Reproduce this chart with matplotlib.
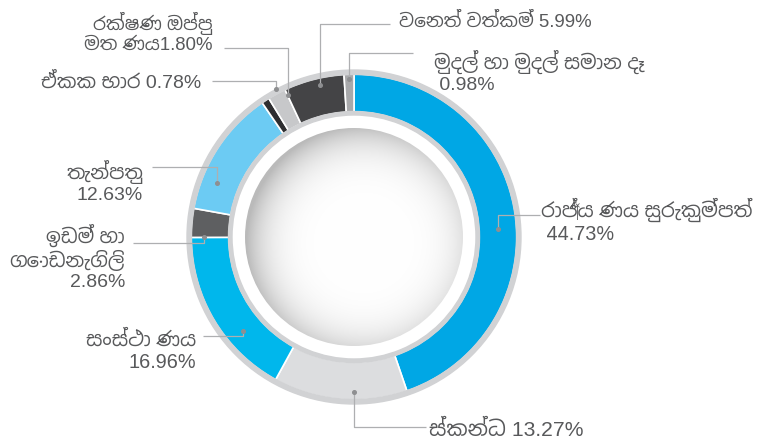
import numpy as np
import matplotlib
matplotlib.use("Agg")
import matplotlib.pyplot as plt
from matplotlib import font_manager
from matplotlib.patches import Circle, Wedge
from matplotlib.ft2font import FT2Font

# ---------------- data ----------------
labels = [
    "රාජ්‍ය ණය සුරැකුම්පත්\n 44.73%",
    "ස්කන්ධ 13.27%",
    "සංස්ථා ණය\n16.96%",
    "ඉඩම් හා\nගොඩනැගිලි\n2.86%",
    "තැන්පතු\n12.63%",
    "ඒකක භාර 0.78%",
    "රක්ෂණ ඔප්පු\nමත ණය1.80%",
    "වෙනත් වත්කම් 5.99%",
    "මුදල් හා මුදල් සමාන දෑ\n 0.98%",
]
values = [44.73, 13.27, 16.96, 2.86, 12.63, 0.78, 1.80, 5.99, 0.98]
colors = ["#00A7E5", "#DCDDDF", "#00B7EC", "#5E5F61", "#6CCBF3",
          "#2E2E30", "#C7C8CA", "#444446", "#A8A9AB"]

# ---------------- font selection ----------------
def find_sinhala_fonts():
    found = []
    for f in font_manager.fontManager.ttflist:
        try:
            cm = FT2Font(f.fname).get_charmap()
            if 0x0DBB in cm and 0x0DCF in cm:
                found.append(f.name)
        except Exception:
            pass
    found = sorted(set(found), key=lambda n: (("Mono" in n) or ("Code" in n),
                                               "Sans" not in n, n))
    return found

sfonts = find_sinhala_fonts()
families = ["Liberation Sans", "DejaVu Sans"] + sfonts[:1]
plt.rcParams["font.family"] = families

W, H = 761, 443
fig = plt.figure(figsize=(W / 100, H / 100), dpi=100)
ax = fig.add_axes([0, 0, 1, 1])

cx, cy = 354, H - 237
r_out, r_in = 163, 125

ax.pie(values, colors=colors, startangle=90, counterclock=False,
       radius=r_out, center=(cx, cy),
       wedgeprops=dict(width=r_out - r_in, edgecolor="white", linewidth=1.2))

# outer and inner gray rings
ax.add_patch(Wedge((cx, cy), r_out + 4, 0, 360, width=4.5, color="#D1D2D4", zorder=3))
ax.add_patch(Wedge((cx, cy), r_in + 0.5, 0, 360, width=3.5, color="#D1D2D4", zorder=3))

# inner shaded disc
r_disc = 109
n = 400
xs = np.linspace(cx - r_disc, cx + r_disc, n)
ys = np.linspace(cy - r_disc, cy + r_disc, n)
X, Y = np.meshgrid(xs, ys)
lx, ly = cx + 10, cy - 6
d = np.sqrt((X - lx) ** 2 + (Y - ly) ** 2) / (r_disc * 1.08)
shade = 1.0 - 0.27 * np.clip(d, 0, 1) ** 5.0
img = np.dstack([shade, shade, shade])
im = ax.imshow(img, extent=(cx - r_disc, cx + r_disc, cy - r_disc, cy + r_disc),
               origin="lower", zorder=4, interpolation="bilinear")
clip = Circle((cx, cy), r_disc, transform=ax.transData)
im.set_clip_path(clip)

# ---------------- leaders & labels (layout in pixel coords) ----------------
lead_col = "#AEAFB1"
txt_col = "#58595B"
leaders = [
    # (polyline points, text x, text y, ha, fontsize)
    ([(498, 229), (498, 215), (540, 215)], 541, 221, "left", 14.3),
    ([(354, 392), (354, 427), (426, 427)], 429, 430, "left", 15.2),
    ([(243, 331), (243, 336), (203, 336)], 196, 351, "right", 14.3),
    ([(204, 237), (204, 243), (133, 243)], 125, 257, "right", 14.0),
    ([(217, 183), (217, 167), (152, 167)], 143, 182, "right", 14.0),
    ([(276, 89), (276, 81), (212, 81)], 201, 82, "right", 14.0),
    ([(288, 95), (288, 48), (224, 48)], 213, 33, "right", 13.4),
    ([(320, 85), (320, 24), (390, 24)], 399, 22, "left", 13.4),
    ([(349, 79), (349, 53), (413, 53)], 434, 72, "left", 14.0),
]
for (pts, tx, ty, ha, fs), lab in zip(leaders, labels):
    px = [p[0] for p in pts]
    py = [H - p[1] for p in pts]
    ax.plot(px, py, color=lead_col, lw=0.9, zorder=6, solid_capstyle="butt")
    ax.plot(px[0], py[0], "o", color="#8E8F91", ms=2.6, zorder=7)
    ax.text(tx, H - ty, lab, ha=ha, va="center", color=txt_col, fontsize=fs,
            linespacing=1.2, multialignment=ha, zorder=8)

ax.set_xlim(0, W)
ax.set_ylim(0, H)
ax.set_aspect("auto")
ax.axis("off")
fig.savefig("out.png", dpi=100, facecolor="white")
